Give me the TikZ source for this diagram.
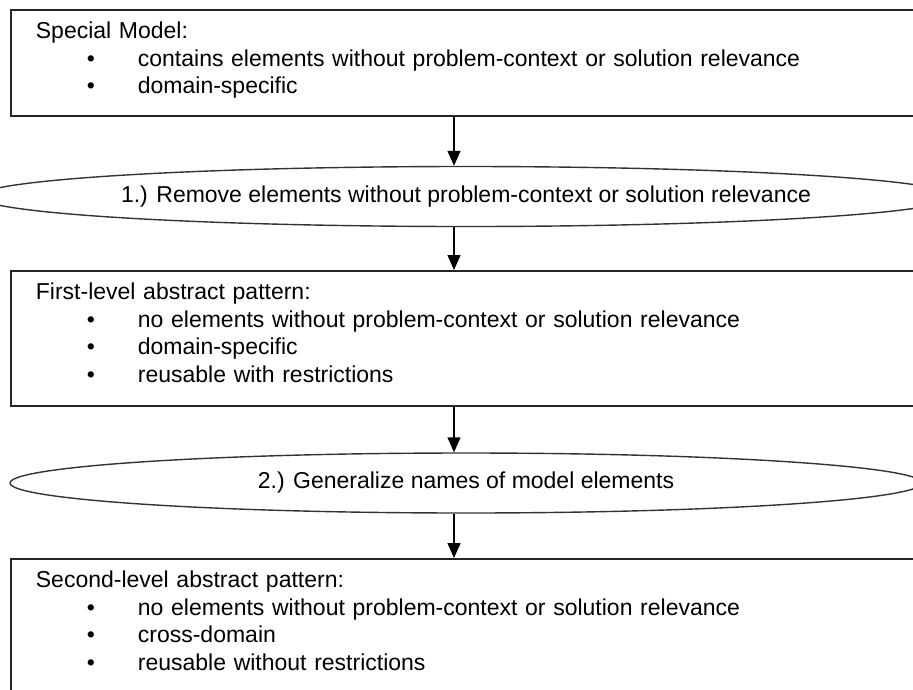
\documentclass[tikz,border=0pt]{standalone}
\usepackage{fontspec}
\setmainfont{Liberation Sans}
\usetikzlibrary{arrows.meta, shapes.geometric}

\newcommand{\bul}{\hspace*{51pt}\makebox[51pt][l]{\textbullet}}

\begin{document}
\begin{tikzpicture}[
        x=1pt, y=1pt,
        font=\fontsize{23}{27.5}\selectfont,
        box/.style={draw=black!85, line width=1.8pt, anchor=north west, align=left, text width=900pt, inner xsep=25pt, inner ysep=12pt},
        stepell/.style={ellipse, draw=black!80, line width=1.4pt, minimum width=912pt, minimum height=60pt, inner sep=0pt},
        arrow/.style={-{Triangle[length=15pt, width=13pt]}, line width=1.4pt}
    ]
        \useasboundingbox (0,0) rectangle (913,-689);
        \clip (0,0) rectangle (913,-689);
        \coordinate (spine) at (454,0);

        \node[box, text depth=65.5pt] (special) at (10,-9) {Special Model:\\
            \bul contains elements without problem-context or solution relevance\\
            \bul domain-specific};
        \node[stepell] (remove) at (466,-196.5) {1.) Remove elements without problem-context or solution relevance};
        \node[box, text depth=94.5pt] (first) at (10,-270) {First-level abstract pattern:\\
            \bul no elements without problem-context or solution relevance\\
            \bul domain-specific\\
            \bul reusable with restrictions};
        \node[stepell] (general) at (466,-483) {2.) Generalize names of model elements};
        \node[box, text depth=130pt] (second) at (10,-558) {Second-level abstract pattern:\\
            \bul no elements without problem-context or solution relevance\\
            \bul cross-domain\\
            \bul reusable without restrictions};

        \draw[arrow] (special.south -| spine) -- (remove.north -| spine);
        \draw[arrow] (remove.south -| spine) -- (first.north -| spine);
        \draw[arrow] (first.south -| spine) -- (general.north -| spine);
        \draw[arrow] (general.south -| spine) -- (second.north -| spine);
    \end{tikzpicture}
\end{document}
